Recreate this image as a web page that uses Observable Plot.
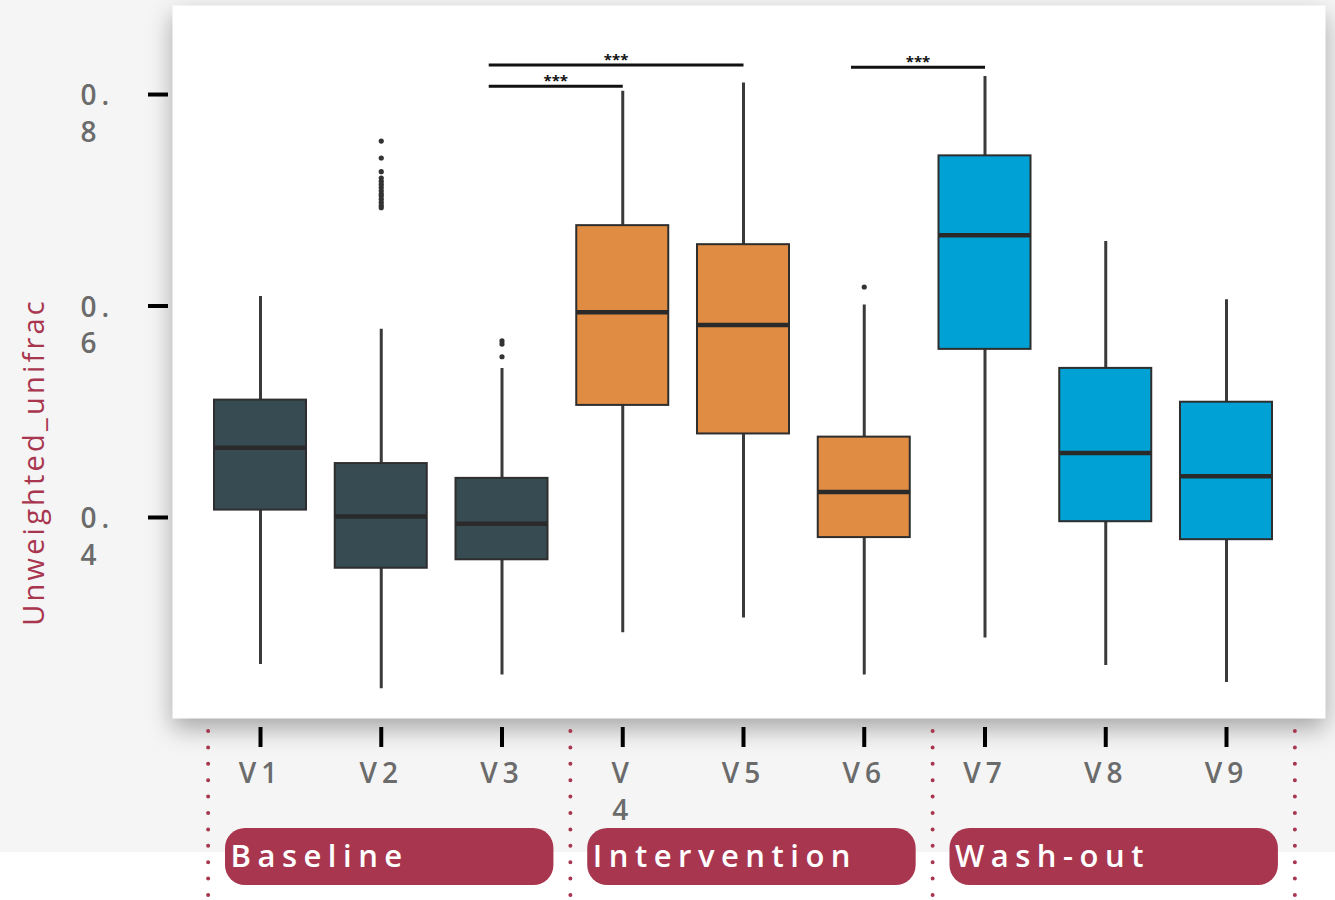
<!DOCTYPE html>
<html><head><meta charset="utf-8">
<script src="https://cdn.jsdelivr.net/npm/d3@7"></script>
<script src="https://cdn.jsdelivr.net/npm/@observablehq/plot@0.6"></script>
<style>
html,body{margin:0;padding:0;background:#fff;}
#wrap{position:relative;width:1335px;height:900px;overflow:hidden;}
#bg{position:absolute;left:0;top:0;width:1335px;height:852px;background:#f5f5f5;}
#chart{position:absolute;left:0;top:0;}
</style></head><body>
<div id="wrap"><div id="bg"></div><div id="chart"></div></div>
<script>
// ---- data ----
const categories = ["V1","V2","V3","V4","V5","V6","V7","V8","V9"];
const tickLabels = ["V1","V2","V3","V\n4","V5","V6","V7","V8","V9"];
const phase = ["Baseline","Baseline","Baseline","Intervention","Intervention","Intervention","Wash-out","Wash-out","Wash-out"];
const whiskerLow  = [0.261, 0.238, 0.251, 0.291, 0.305, 0.251, 0.286, 0.260, 0.244];
const q1          = [0.407, 0.352, 0.360, 0.506, 0.479, 0.381, 0.559, 0.396, 0.379];
const median      = [0.466, 0.401, 0.394, 0.594, 0.582, 0.424, 0.667, 0.461, 0.439];
const q3          = [0.511, 0.451, 0.437, 0.676, 0.658, 0.476, 0.742, 0.541, 0.509];
const whiskerHigh = [0.609, 0.578, 0.541, 0.803, 0.811, 0.601, 0.817, 0.661, 0.606];
const outlierCategory = ["V2","V2","V2","V2","V2","V2","V2","V2","V2","V2","V2","V2","V2","V2","V3","V3","V3","V6"];
const outlierValue    = [0.756,0.740,0.727,0.721,0.718,0.715,0.712,0.709,0.706,0.704,0.701,0.698,0.695,0.693,0.567,0.564,0.552,0.618];
const groupNames = ["Baseline","Intervention","Wash-out"];
const groupFirst = ["V1","V4","V7"];
const groupLast  = ["V3","V6","V9"];
const bracketFrom  = ["V3","V3","V6"];
const bracketTo    = ["V4","V5","V7"];
const bracketValue = [0.8078, 0.8280, 0.8257];
const bracketLabel = ["***","***","***"];
const yTicks = [0.4, 0.6, 0.8];
const yLabel = "Unweighted_unifrac";

// ---- build ----
const phaseColor = {"Baseline":"#364b52","Intervention":"#e08d43","Wash-out":"#00a2d5"};
const idx = c => categories.indexOf(c);
const rows = categories.map((c,i)=>({c, i, lo:whiskerLow[i], q1:q1[i], med:median[i], q3:q3[i], hi:whiskerHigh[i], phase:phase[i], label:tickLabels[i]}));
const outliers = outlierCategory.map((c,k)=>({i:idx(c), v:outlierValue[k]}));
const groups = groupNames.map((g,k)=>({name:g, a:idx(groupFirst[k]), b:idx(groupLast[k])}));
const boundaries = [...groups.map(g=>g.a-0.5), groups[groups.length-1].b+0.5];
const bracketInset = 0.11;
const brackets = bracketFrom.map((f,k)=>({a:idx(f) - bracketInset, b:idx(bracketTo[k]), v:bracketValue[k], t:bracketLabel[k]}));

const W = 1335, H = 900, mT = 5, mB = 182, mL = 172, mR = 10;
const yDom = [0.2099, 0.8842];
const yAt = px => yDom[1] - (px - mT) * (yDom[1]-yDom[0]) / (H - mB - mT);
const half = 0.381;
const crimson = "#a8364f";

const plot = Plot.plot({
  width: W, height: H,
  marginTop: mT, marginBottom: mB, marginLeft: mL, marginRight: mR,
  style: {background: "transparent", fontFamily: "'Open Sans', sans-serif", overflow: "visible"},
  x: {domain: [-0.7288, 8.8199], axis: null},
  y: {domain: yDom, axis: null},
  marks: [
    Plot.frame({fill: "white", stroke: "none"}),
    Plot.axisY(yTicks, {tickSize: 20, dx: -4, strokeWidth: 4, stroke: "#000", tickFormat: () => "", label: null}),
    Plot.axisX(d3.range(categories.length), {tickSize: 20, dy: 9, strokeWidth: 4, stroke: "#000", tickFormat: () => "", label: null}),
    Plot.ruleX(rows, {x: "i", y1: "lo", y2: "hi", stroke: "#3a3a3a", strokeWidth: 3}),
    Plot.rect(rows, {x1: d => d.i - half, x2: d => d.i + half, y1: "q1", y2: "q3", fill: d => phaseColor[d.phase], stroke: "#2e2e2e", strokeWidth: 2}),
    Plot.ruleY(rows, {x1: d => d.i - half, x2: d => d.i + half, y: "med", stroke: "#2a2a2a", strokeWidth: 4.5}),
    Plot.dot(outliers, {x: "i", y: "v", r: 2.6, fill: "#333", stroke: null}),
    Plot.link(brackets, {x1: "a", x2: "b", y1: "v", y2: "v", stroke: "#111", strokeWidth: 3}),
    Plot.text(yTicks, {y: d => d, text: d => d3.format(".1f")(d).replace(".", ".\n"), frameAnchor: "left", dx: -92, textAnchor: "start", lineAnchor: "top", dy: -15, lineHeight: 1.3, fontSize: 28, fill: "#6b6b6b", fontWeight: 600}),
    Plot.text(rows, {x: "i", text: "label", frameAnchor: "bottom", lineAnchor: "top", dy: 39, lineHeight: 1.3, fontSize: 28, fill: "#6b6b6b", fontWeight: 600}),
    Plot.text(brackets, {x: d => (d.a + d.b) / 2, y: "v", text: "t", dy: -5, fontSize: 15, fontWeight: 700, fill: "#111"}),
    Plot.ruleX(boundaries, {x: d => d, dx: 8, y1: yAt(731), y2: yAt(896), stroke: crimson, strokeWidth: 4, strokeDasharray: "0 16.4", strokeLinecap: "round"}),
    Plot.rect(groups, {x1: d => d.a - 0.29, x2: d => d.b + 0.43, y1: yAt(885), y2: yAt(828), rx: 20, fill: crimson}),
    Plot.text(groups, {x: d => d.a - 0.29, text: "name", frameAnchor: "bottom", textAnchor: "start", dx: 5, dy: 148, fontSize: 31, fontWeight: 600, fill: "white"}),
    Plot.text([yLabel], {text: d => d, frameAnchor: "left", textAnchor: "middle", dx: -138, dy: 100, rotate: -90, fontSize: 29, fontWeight: 500, fill: crimson})
  ]
});
document.getElementById("chart").appendChild(plot);
// frame shadow
const frameEl = plot.querySelector('[aria-label="frame"]');
if (frameEl) frameEl.style.filter = "drop-shadow(0px 10px 12px rgba(0,0,0,0.32))";
// letter spacing per text mark (in mark order)
const textGroups = plot.querySelectorAll('g[aria-label="text"]');
const spacing = ["5px", "5px", "0px", "6.5px", "3.2px"];
textGroups.forEach((g, k) => { g.setAttribute("letter-spacing", spacing[k] || "0px"); });
</script>
</body></html>
